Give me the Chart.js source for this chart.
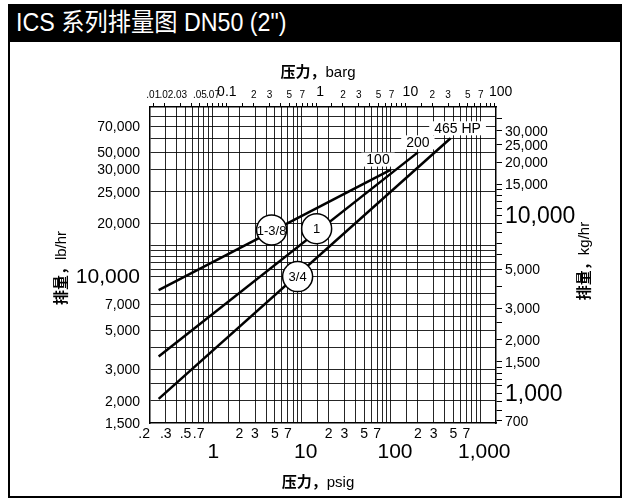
<!DOCTYPE html>
<html>
<head>
<meta charset="utf-8">
<script src="https://cdn.jsdelivr.net/npm/chart.js@4.4.1/dist/chart.umd.min.js"></script>
<style>
    body { margin: 0; background: #fff; width: 630px; height: 503px; position: relative; overflow: hidden; }
    #title {
        position: absolute; left: 8px; top: 4px; width: 614px; height: 37px;
        background: #000; color: #fff; box-sizing: border-box; padding-left: 8px;
        font: 25px "Liberation Sans", "Noto Sans CJK SC", sans-serif; line-height: 37px; white-space: nowrap;
    }
    #title span { display: inline-block; transform: scaleX(0.93); transform-origin: left center; }
    #panel { position: absolute; left: 8px; top: 40px; width: 614px; height: 458px; border: 2px solid #000; box-sizing: border-box; }
    #chart { position: absolute; left: 0; top: 0; }
</style>
</head>
<body>
<div id="title"><span>ICS 系列排量图 DN50 (2")</span></div>
<div id="panel"></div>
<canvas id="chart" width="630" height="503"></canvas>
<script>
const FONT = '"Liberation Sans", "Noto Sans CJK SC", sans-serif';
const PSI_PER_BAR = 14.5038;
const LB_PER_KG = 2.20462;

// Линии по размерам седла
const seatNames = ['1-3/8', '1', '3/4'];
const psigStart = [0.25, 0.25, 0.25];
const flowStart = [8400, 3550, 2050];
const psigEnd = [100, 200, 465];
const flowEnd = [40000, 50000, 60000];
const endLabels = ['100', '200', '465 HP'];
const circlePsig = [4.6, 14.7, 9.0];
const circleFlow = [18300, 18600, 10000];

// Сетка и подписи
const psigGrid = [0.3, 0.4, 0.5, 0.6, 0.7, 0.8, 0.9, 1, 1.5, 2, 3, 4, 5, 6, 7, 8, 9, 10,
    15, 20, 30, 40, 50, 60, 70, 80, 90, 100, 150, 200, 300, 400, 500, 600, 700, 800, 900, 1000];
const psigSmallAt = [0.2, 0.3, 0.5, 0.7, 2, 3, 5, 7, 20, 30, 50, 70, 200, 300, 500, 700];
const psigSmallText = ['.2', '.3', '.5', '.7', '2', '3', '5', '7', '2', '3', '5', '7', '2', '3', '5', '7'];
const psigBigAt = [1, 10, 100, 1000];
const psigBigText = ['1', '10', '100', '1,000'];

const bargTicks = [0.015, 0.02, 0.03, 0.04, 0.05, 0.06, 0.07, 0.08, 0.09, 0.1, 0.15, 0.2, 0.3, 0.4, 0.5, 0.6, 0.7, 0.8, 0.9,
    1, 1.5, 2, 3, 4, 5, 6, 7, 8, 9, 10, 15, 20, 30, 40, 50, 60, 70, 80, 90, 100];
const bargSmallAt = [0.015, 0.02, 0.03, 0.05, 0.07, 0.2, 0.3, 0.5, 0.7, 2, 3, 5, 7, 20, 30, 50, 70];
const bargSmallText = ['.01', '.02', '.03', '.05', '.07', '2', '3', '5', '7', '2', '3', '5', '7', '2', '3', '5', '7'];
const bargBigAt = [0.1, 1, 10, 100];
const bargBigText = ['0.1', '1', '10', '100'];

const lbGrid = [2000, 2500, 3000, 4000, 5000, 6000, 7000, 8000, 10000, 11000, 12000, 13000, 14000, 15000,
    20000, 30000, 40000, 50000, 60000, 70000, 80000];
const lbLabelAt = [1500, 2000, 3000, 5000, 7000, 10000, 20000, 30000, 40000, 50000, 70000];
const lbLabelText = ['1,500', '2,000', '3,000', '5,000', '7,000', '10,000', '20,000', '25,000', '30,000', '50,000', '70,000'];

const kgTicks = [700, 800, 900, 1000, 1100, 1200, 1300, 1400, 1500, 2000, 2500, 3000, 4000, 5000, 6000, 7000, 8000, 9000,
    10000, 11000, 12000, 13000, 14000, 15000, 20000, 25000, 30000, 35000];
const kgLabelAt = [700, 1000, 1500, 2000, 3000, 5000, 10000, 15000, 20000, 25000, 30000];
const kgLabelText = ['700', '1,000', '1,500', '2,000', '3,000', '5,000', '10,000', '15,000', '20,000', '25,000', '30,000'];

const GRID = 'rgba(0,0,0,0.85)';
const setTicks = vals => s => { s.ticks = vals.map(v => ({ value: v })); };

// Заголовок оси: иероглифы жирным, латиница обычным
function axisTitle(ctx, cjk, latin, x, y) {
    const bold = 'bold 15px ' + FONT;
    const reg = '15px ' + FONT;
    ctx.font = bold;
    const w1 = ctx.measureText(cjk).width;
    ctx.font = reg;
    const w2 = ctx.measureText(latin).width;
    const x0 = x - (w1 + w2) / 2;
    ctx.textAlign = 'left';
    ctx.font = bold;
    ctx.fillText(cjk, x0, y);
    ctx.font = reg;
    ctx.fillText(latin, x0 + w1, y);
}

const textPlugin = {
    id: 'textPlugin',
    afterDatasetsDraw(chart) {
        const { ctx, scales } = chart;
        ctx.save();
        ctx.textAlign = 'center';
        ctx.textBaseline = 'middle';
        ctx.fillStyle = '#000';
        // подписи в кружках
        ctx.font = '13px ' + FONT;
        seatNames.forEach((n, i) => {
            ctx.fillText(n, scales.x.getPixelForValue(circlePsig[i]), scales.y.getPixelForValue(circleFlow[i]) + 1);
        });
        // подписи на концах линий
        const shift = [-13, 0, 7];
        ctx.font = '14px ' + FONT;
        endLabels.forEach((t, i) => {
            const px = scales.x.getPixelForValue(psigEnd[i]) + shift[i];
            const py = scales.y.getPixelForValue(flowEnd[i]) - 10;
            const w = ctx.measureText(t).width + 10;
            ctx.fillStyle = '#fff';
            ctx.fillRect(px - w / 2, py - 7, w, 14);
            ctx.fillStyle = '#000';
            ctx.fillText(t, px, py + 1);
        });
        ctx.restore();
    },
    afterDraw(chart) {
        const { ctx, chartArea: a, scales } = chart;
        ctx.save();
        ctx.fillStyle = '#000';
        ctx.textBaseline = 'middle';
        const put = (t, x, y, font, align) => {
            ctx.font = font;
            ctx.textAlign = align || 'center';
            ctx.fillText(t, x, y);
        };
        psigSmallAt.forEach((v, i) => {
            const px = scales.x.getPixelForValue(v);
            const edge = px <= a.left + 1;
            put(psigSmallText[i], edge ? px : px, a.bottom + 11, '14px ' + FONT, edge ? 'right' : 'center');
        });
        psigBigAt.forEach((v, i) => put(psigBigText[i], scales.x.getPixelForValue(v) + (i ? 4 : 1), a.bottom + 29, '21px ' + FONT));
        bargSmallAt.forEach((v, i) => {
            const nudge = i === 1 ? 2 : 0;
            put(bargSmallText[i], scales.x2.getPixelForValue(v) + nudge, a.top - 12, '10px ' + FONT);
        });
        bargBigAt.forEach((v, i) => put(bargBigText[i], scales.x2.getPixelForValue(v) + (i > 0 ? 3 + i : 0), a.top - 15, '14px ' + FONT));
        lbLabelAt.forEach((v, i) => put(lbLabelText[i], a.left - 10, scales.y.getPixelForValue(v) + 1, (v === 10000 ? 21 : 14) + 'px ' + FONT, 'right'));
        kgLabelAt.forEach((v, i) => put(kgLabelText[i], a.right + 9, scales.y2.getPixelForValue(v) + 1, ((v === 10000 || v === 1000) ? 23 : 14) + 'px ' + FONT, 'left'));

        // названия осей
        axisTitle(ctx, '压力，', 'barg', 318, 73);
        axisTitle(ctx, '压力，', 'psig', 318, 483);
        ctx.save();
        ctx.translate(62, 268);
        ctx.rotate(-Math.PI / 2);
        axisTitle(ctx, '排量，', 'lb/hr', 0, 0);
        ctx.restore();
        ctx.save();
        ctx.translate(585, 261);
        ctx.rotate(-Math.PI / 2);
        axisTitle(ctx, '排量，', 'kg/hr', 0, 0);
        ctx.restore();
        ctx.restore();
    }
};

const datasets = [{
    label: 'seat',
    data: circlePsig.map((p, i) => ({ x: p, y: circleFlow[i] })),
    pointRadius: 15,
    pointBackgroundColor: '#fff',
    pointBorderColor: '#000',
    pointBorderWidth: 1.5,
    showLine: false,
    order: 0
}];
seatNames.forEach((n, i) => {
    datasets.push({
        label: n,
        data: [{ x: psigStart[i], y: flowStart[i] }, { x: psigEnd[i], y: flowEnd[i] }],
        showLine: true,
        borderColor: '#000',
        borderWidth: 2.5,
        pointRadius: 0,
        order: 1
    });
});

new Chart(document.getElementById('chart'), {
    type: 'scatter',
    data: { datasets },
    options: {
        responsive: false,
        animation: false,
        events: [],
        layout: { padding: 0 },
        plugins: { legend: { display: false }, tooltip: { enabled: false } },
        scales: {
            x: {
                type: 'logarithmic', position: 'bottom', min: 0.2, max: 1500,
                afterBuildTicks: setTicks(psigGrid),
                afterFit: s => { s.height = 80; },
                ticks: { display: false },
                grid: { color: GRID, lineWidth: 1, drawTicks: false },
                border: { color: '#000', width: 1.5 }
            },
            x2: {
                type: 'logarithmic', position: 'top', min: 0.2 / PSI_PER_BAR, max: 1500 / PSI_PER_BAR,
                afterBuildTicks: setTicks(bargTicks),
                afterFit: s => { s.height = 107; },
                ticks: { display: false },
                grid: { drawOnChartArea: false, tickLength: 4, color: '#000', lineWidth: 1 },
                border: { color: '#000', width: 1.5 }
            },
            y: {
                type: 'logarithmic', position: 'left', min: 1500, max: 90000,
                afterBuildTicks: setTicks(lbGrid),
                afterFit: s => { s.width = 150; },
                ticks: { display: false },
                grid: { color: GRID, lineWidth: 1, drawTicks: false },
                border: { color: '#000', width: 1.5 }
            },
            y2: {
                type: 'logarithmic', position: 'right', min: 1500 / LB_PER_KG, max: 90000 / LB_PER_KG,
                afterBuildTicks: setTicks(kgTicks),
                afterFit: s => { s.width = 134; },
                ticks: { display: false },
                grid: { drawOnChartArea: false, tickLength: 6, color: '#000', lineWidth: 1 },
                border: { color: '#000', width: 1.5 }
            }
        }
    },
    plugins: [textPlugin]
});
</script>
</body>
</html>
